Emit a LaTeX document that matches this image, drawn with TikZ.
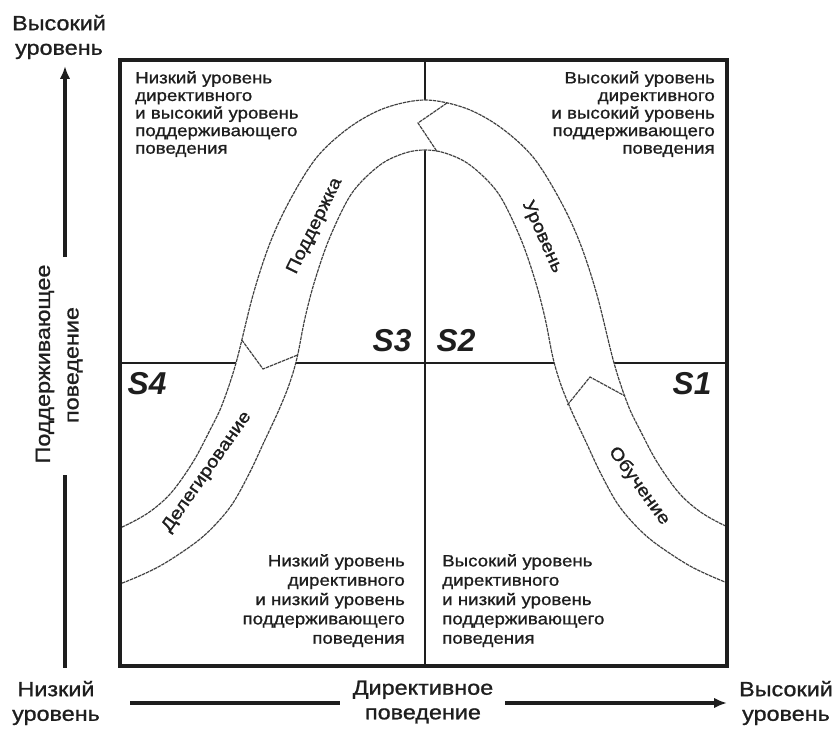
\documentclass[tikz,border=0pt]{standalone}
\usepackage{fontspec}
\setmainfont{Liberation Sans}
\newfontfamily\lab[FakeStretch=1.14,FakeBold=1]{Liberation Sans}
\usetikzlibrary{arrows.meta}
\definecolor{ink}{HTML}{1E1E1E}
\begin{document}
\begin{tikzpicture}[x=0.03cm,y=-0.03cm,
  qtext/.style={font=\lab\fontsize{14}{15}\selectfont, inner sep=0pt, text=ink},
  qtextb/.style={font=\lab\fontsize{14}{16.5}\selectfont, inner sep=0pt, text=ink},
  bandtext/.style={font=\lab\fontsize{15}{16}\selectfont, inner sep=0pt, text=ink},
  axtext/.style={font=\lab\fontsize{17.5}{21}\selectfont, inner sep=0pt, text=ink, align=center},
  slab/.style={font=\fontsize{27}{28}\selectfont\bfseries\itshape, inner sep=0pt, text=ink},
  frame/.style={draw=ink, line width=3.4pt},
  midline/.style={draw=ink, line width=2pt},
  curve/.style={draw=ink!85, line width=1pt, dash pattern=on 3pt off 0.7pt},
  axisline/.style={draw=ink, line width=3pt},
  axisarrow/.style={draw=ink, line width=3pt, -{Latex[length=11pt,width=9pt]}}]
\useasboundingbox (0,0) rectangle (834,733);

% grid lines
\coordinate (vt) at (425,60); \coordinate (vb) at (425,666);
\coordinate (hl) at (120,363); \coordinate (hr) at (727,363);
\draw[midline] (vt) -- (vb);
\draw[midline] (hl) -- (hr);

% ribbon
\begin{scope}
\clip (120,60) rectangle (727,666);
\fill[white] plot[smooth,tension=0.55] coordinates {(105,532) (120,528) (148,513) (171,493) (193,462) (210,430) (222,405) (236,363) (253,295) (270,243) (290,200) (317,157) (350,127) (385,108) (425,100) (465,108) (500,127) (533,157) (560,200) (580,243) (597,295) (614,363) (628,405) (640,430) (657,462) (679,493) (702,513) (730,528) (745,532)}
 -- plot[smooth,tension=0.55] coordinates {(745,588) (725,582) (690,566) (655,543) (635,525) (617,503) (600,472) (586,442) (572,412) (561,385) (553,358) (545,318) (535,280) (520,237) (498,193) (470,165) (445,153) (425,150) (405,153) (380,165) (352,193) (330,237) (315,280) (305,318) (297,358) (289,385) (278,412) (264,442) (250,472) (233,503) (215,525) (195,543) (160,566) (125,582) (105,588)} -- cycle;
\draw[curve] plot[smooth,tension=0.55] coordinates {(105,532) (120,528) (148,513) (171,493) (193,462) (210,430) (222,405) (236,363) (253,295) (270,243) (290,200) (317,157) (350,127) (385,108) (425,100) (465,108) (500,127) (533,157) (560,200) (580,243) (597,295) (614,363) (628,405) (640,430) (657,462) (679,493) (702,513) (730,528) (745,532)};
\draw[curve] plot[smooth,tension=0.55] coordinates {(745,588) (725,582) (690,566) (655,543) (635,525) (617,503) (600,472) (586,442) (572,412) (561,385) (553,358) (545,318) (535,280) (520,237) (498,193) (470,165) (445,153) (425,150) (405,153) (380,165) (352,193) (330,237) (315,280) (305,318) (297,358) (289,385) (278,412) (264,442) (250,472) (233,503) (215,525) (195,543) (160,566) (125,582) (105,588)};
% dividers
\coordinate (d1a) at (447,103); \coordinate (d1b) at (418,123); \coordinate (d1c) at (437,151.5);
\coordinate (d2a) at (241.8,340); \coordinate (d2b) at (263,369); \coordinate (d2c) at (297.6,355);
\coordinate (d3a) at (567.4,405); \coordinate (d3b) at (590,377); \coordinate (d3c) at (625,396);
\draw[curve] (d1a) -- (d1b) -- (d1c);
\draw[curve] (d2a) -- (d2b) -- (d2c);
\draw[curve] (d3a) -- (d3b) -- (d3c);
\end{scope}

% frame
\draw[frame] (120,60) rectangle (727,666);

% band labels
\node[bandtext, rotate=64] (bsup) at (315,226) {Поддержка};
\node[bandtext, rotate=-66] (blev) at (542,237) {Уровень};
\node[bandtext, rotate=-54] (bedu) at (639,486) {Обучение};
\node[bandtext, rotate=55] (bdel) at (207,472) {Делегирование};

% quadrant texts
\node[qtext, anchor=north west, align=left] (tl) at (135,71) {Низкий уровень\\директивного\\и высокий уровень\\поддерживающего\\поведения};
\node[qtext, anchor=north east, align=right] (tr) at (715,71) {Высокий уровень\\директивного\\и высокий уровень\\поддерживающего\\поведения};
\node[qtextb, anchor=north east, align=right] (bl) at (405,554) {Низкий уровень\\директивного\\и низкий уровень\\поддерживающего\\поведения};
\node[qtextb, anchor=north west, align=left] (br) at (442,554) {Высокий уровень\\директивного\\и низкий уровень\\поддерживающего\\поведения};

% S labels
\node[slab] (s3) at (392,341) {S3};
\node[slab] (s2) at (456,341) {S2};
\node[slab] (s4) at (147,384) {S4};
\node[slab] (s1) at (692,384) {S1};

% y axis
\node[axtext] (yhi) at (59,37) {Высокий\\уровень};
\node[axtext, rotate=90] (ylab1) at (45,364) {Поддерживающее};
\node[axtext, rotate=90] (ylab2) at (75,365) {поведение};
\coordinate (ytip) at (65,66); \coordinate (ya) at (65,257);
\coordinate (yb) at (65,475); \coordinate (ybot) at (65,668);
\draw[axisarrow] (ya) -- (ytip);
\draw[axisline] (yb) -- (ybot);

% x axis
\node[axtext] (xlo) at (56,703) {Низкий\\уровень};
\node[axtext] (xlab) at (423,702) {Директивное\\поведение};
\node[axtext] (xhi) at (786,703) {Высокий\\уровень};
\coordinate (xa) at (130,703); \coordinate (xb) at (340,703);
\coordinate (xc) at (505,703); \coordinate (xtip) at (727,703);
\draw[axisline] (xa) -- (xb);
\draw[axisarrow] (xc) -- (xtip);
\end{tikzpicture}
\end{document}
